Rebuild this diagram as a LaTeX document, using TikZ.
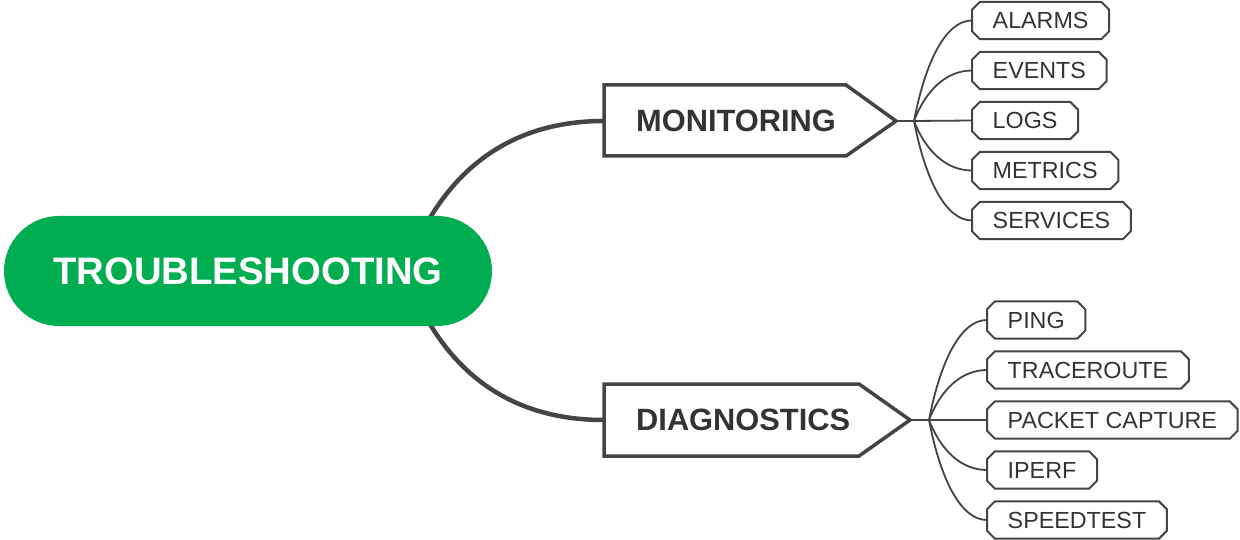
\documentclass[tikz,border=0pt]{standalone}
\usepackage{fontspec}
\setmainfont{Liberation Sans}
\usetikzlibrary{calc,backgrounds}
\definecolor{rootgreen}{HTML}{00AD51}
\definecolor{ink}{HTML}{333333}
\definecolor{edgegray}{HTML}{444444}
\begin{document}
\begin{tikzpicture}[x=1pt,y=-1pt,
  rootnode/.style={rectangle, rounded corners=55pt, fill=rootgreen, text=white,
    minimum width=488pt, minimum height=110pt, inner sep=0pt,
    font=\fontsize{38.3}{44}\selectfont\bfseries},
  headtext/.style={anchor=west, text=ink, inner sep=0pt,
    font=\fontsize{30.8}{36}\selectfont\bfseries},
  headbox/.style={draw=edgegray, line width=3.5pt, line join=miter},
  leaf/.style={anchor=west, text=ink, inner xsep=20.5pt, inner ysep=0pt,
    minimum height=37pt, font=\fontsize{23.3}{28}\selectfont},
  leafline/.style={draw=edgegray, line width=2pt},
  trunk/.style={draw=edgegray, line width=4.5pt},
  twig/.style={draw=edgegray, line width=1.8pt}]
\useasboundingbox (0,0) rectangle (1240,540);

% root
\node[rootnode] (root) at (248,271) {TROUBLESHOOTING};

% head nodes
\node[headtext] (mon) at (636,121) {MONITORING};
\node[headtext] (dia) at (636,420) {DIAGNOSTICS};
\draw[headbox] (604,85) -- (846,85) -- (896,121) -- (846,156) -- (604,156) -- cycle;
\draw[headbox] (604,384) -- (859,384) -- (910,420) -- (859,456) -- (604,456) -- cycle;
\coordinate (monL) at (604,121);
\coordinate (monT) at (896,121);
\coordinate (monJ) at (914,121);
\coordinate (diaL) at (604,420);
\coordinate (diaT) at (910,420);
\coordinate (diaJ) at (929,420);

% trunk connectors
\begin{scope}[on background layer]
\draw[trunk] ($(root.north)+(182,2)$) .. controls (465,160) and (520,121) .. (monL);
\draw[trunk] ($(root.south)+(182,-2)$) .. controls (465,382) and (520,420) .. (diaL);
\end{scope}

% leaves
\node[leaf] (alarms)   at (972,20.5)  {ALARMS};
\node[leaf] (events)   at (972,70.5)  {EVENTS};
\node[leaf] (logs)     at (972,120.5) {LOGS};
\node[leaf] (metrics)  at (972,170.5) {METRICS};
\node[leaf] (services) at (972,220.5) {SERVICES};

\node[leaf] (ping)     at (987,320) {PING};
\node[leaf] (trace)    at (987,370) {TRACEROUTE};
\node[leaf] (packet)   at (987,420) {PACKET CAPTURE};
\node[leaf] (iperf)    at (987,470) {IPERF};
\node[leaf] (speed)    at (987,520) {SPEEDTEST};

\foreach \n in {alarms,events,logs,metrics,services,ping,trace,packet,iperf,speed}{
  \draw[leafline] ($(\n.north west)+(8,0)$) -- ($(\n.north east)+(-8,0)$)
    -- ($(\n.north east)+(0,8)$) -- ($(\n.south east)+(0,-8)$)
    -- ($(\n.south east)+(-8,0)$) -- ($(\n.south west)+(8,0)$)
    -- ($(\n.south west)+(0,-8)$) -- ($(\n.north west)+(0,8)$) -- cycle;
}

% twig connectors
\draw[twig] (monT) -- (monJ);
\draw[twig] (diaT) -- (diaJ);
\foreach \n/\dy in {alarms/-100.5, events/-50.5, metrics/49.5, services/99.5}{
  \draw[twig] (monJ) .. controls ($(monJ)+(11.6,{0.6*(\dy)})$) and ($(\n.west)+(-26,0)$) .. (\n.west);
}
\draw[twig] (monJ) -- (logs.west);
\foreach \n/\dy in {ping/-100, trace/-50, iperf/50, speed/100}{
  \draw[twig] (diaJ) .. controls ($(diaJ)+(11.6,{0.6*(\dy)})$) and ($(\n.west)+(-26,0)$) .. (\n.west);
}
\draw[twig] (diaJ) -- (packet.west);
\end{tikzpicture}
\end{document}
